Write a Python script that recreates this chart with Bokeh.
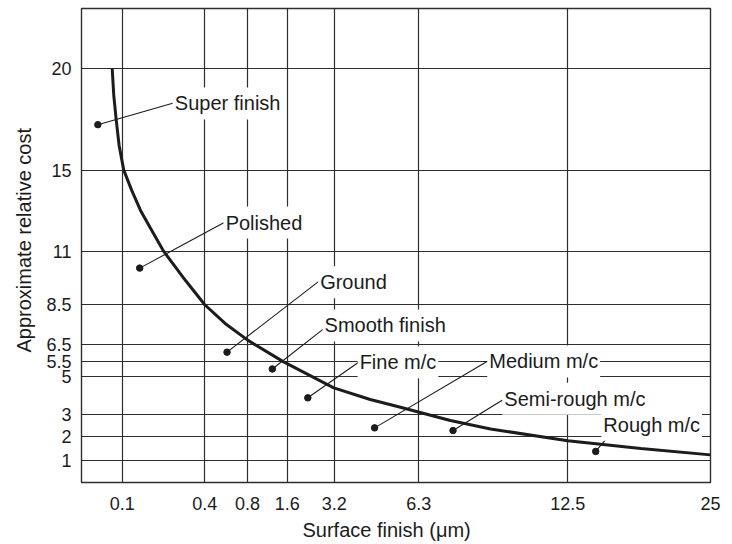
import numpy as np
from bokeh.plotting import figure
from bokeh.models import FixedTicker, Title
from bokeh.core.properties import value
from bokeh.embed import file_html
from bokeh.resources import INLINE

# ---- data ----
finish_um = [0.075, 0.079, 0.085, 0.092, 0.105, 0.134, 0.166, 0.203, 0.25, 0.33, 0.4,
             0.59, 0.81, 1.52, 3.18, 4.52, 5.63, 7.62, 9.29, 12.5, 18.9, 25]
relative_cost = [20, 18.66, 17.44, 16.21, 15, 14.0, 13.01, 12.12, 11, 9.63, 8.5,
                 7.55, 6.69, 5.5, 4.4, 3.79, 3.39, 2.74, 2.36, 1.84, 1.5, 1.23]

x_ticks = [0.1, 0.4, 0.8, 1.6, 3.2, 6.3, 12.5, 25]
x_tick_labels = ["0.1", "0.4", "0.8", "1.6", "3.2", "6.3", "12.5", "25"]
y_ticks = [1, 2, 3, 5, 5.5, 6.5, 8.5, 11, 15, 20]
y_tick_labels = ["1", "2", "3", "5", "5.5", "6.5", "8.5", "11", "15", "20"]

labels = ["Super finish", "Polished", "Ground", "Smooth finish", "Fine m/c",
          "Medium m/c", "Semi-rough m/c", "Rough m/c"]
dot_x = [0.040, 0.163, 0.608, 1.30, 2.30, 4.68, 7.73, 14.95]
dot_y = [17.23, 10.21, 6.04, 5.25, 3.88, 2.41, 2.29, 1.38]
leader_x = [0.283, 0.577, 2.67, 2.90, 4.09, 9.16, 9.79, 16.11]
leader_y = [18.28, 12.40, 9.59, 7.35, 5.48, 5.52, 3.77, 2.06]
text_x = [0.302, 0.623, 2.82, 2.97, 4.24, 9.36, 9.99, 15.88]
text_y = [18.27, 12.41, 9.55, 7.45, 5.48, 5.51, 3.83, 2.55]

# ---- schematic (non-uniform) axes: value -> position along axis (per mille) ----
X_SCALE_VALUES = [0.0] + x_ticks
X_SCALE_POS = [0, 65, 196, 264, 327, 402, 536, 773, 1000]
Y_SCALE_VALUES = [0.0] + y_ticks + [23.0]
Y_SCALE_POS = [0, 47, 96, 143, 224, 255, 292, 375, 488, 659, 874, 1000]


def xw(v):
    return np.interp(v, X_SCALE_VALUES, X_SCALE_POS)


def yw(v):
    return np.interp(v, Y_SCALE_VALUES, Y_SCALE_POS)


INK = "#1c1c1c"
GRID = "#2e2e2e"
FONT = "Liberation Sans"

p = figure(width=724, height=544, x_range=(0, 1000), y_range=(0, 1000),
           output_backend="svg", toolbar_location=None,
           min_border_left=81, min_border_right=14, min_border_top=8, min_border_bottom=62)
p.background_fill_color = "white"
p.border_fill_color = "white"
p.outline_line_color = GRID
p.outline_line_width = 1.4

xpos = [int(round(float(xw(t)))) for t in x_ticks]
ypos = [int(round(float(yw(t)))) for t in y_ticks]
p.xaxis.ticker = FixedTicker(ticks=xpos)
p.xaxis.major_label_overrides = {tp: lab for tp, lab in zip(xpos, x_tick_labels)}
p.yaxis.ticker = FixedTicker(ticks=ypos)
p.yaxis.major_label_overrides = {tp: lab for tp, lab in zip(ypos, y_tick_labels)}

for ax in (p.xaxis, p.yaxis):
    ax.axis_line_color = None
    ax.major_tick_line_color = None
    ax.minor_tick_line_color = None
    ax.major_tick_out = 0
    ax.major_tick_in = 0
    ax.major_label_text_font = FONT
    ax.major_label_text_font_size = "18px"
    ax.major_label_text_color = INK
p.xaxis.major_label_standoff = 14
p.yaxis.major_label_standoff = 10

for g in (p.xgrid, p.ygrid):
    g.grid_line_color = GRID
    g.grid_line_width = 1.2
    g.grid_line_alpha = 1.0

# curve
p.line(xw(finish_um), yw(relative_cost), line_width=3, line_color=INK)

# leaders
p.segment(x0=xw(dot_x), y0=yw(dot_y), x1=xw(leader_x), y1=yw(leader_y),
          line_width=1.1, line_color=INK)

# labels with white boxes
p.text(x=xw(text_x), y=yw(text_y), text=labels, text_font=value(FONT),
       text_font_size="20px", text_color=INK, text_align="left",
       text_baseline="middle", background_fill_color="white", padding=(2, 5),
       x_offset=-5)

# dots
p.scatter(xw(dot_x), yw(dot_y), size=6.5, color=INK)

# axis titles
p.add_layout(Title(text="Surface finish (\u03bcm)", align="left", offset=221, standoff=8,
                   text_font=FONT, text_font_size="20px", text_font_style="normal",
                   text_color=INK), "below")
p.add_layout(Title(text="Approximate relative cost", align="left", offset=130, standoff=18,
                   text_font=FONT, text_font_size="20px", text_font_style="normal",
                   text_color=INK), "left")

open("out.html", "w").write(file_html(p, INLINE))
